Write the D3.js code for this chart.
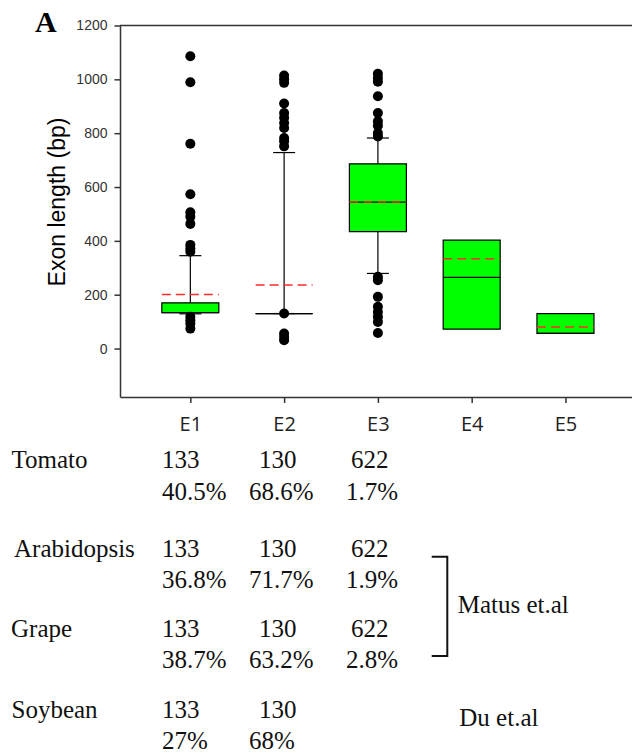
<!DOCTYPE html>
<html>
<head>
<meta charset="utf-8">
<script src="https://cdn.jsdelivr.net/npm/d3@7"></script>
<style>
  body { margin: 0; background: #fff; }
  svg { display: block; }
</style>
</head>
<body>
<svg id="chart" width="632" height="753"></svg>
<script>
// exon length distributions (bp)
const categories = ['E1', 'E2', 'E3', 'E4', 'E5'];
const q1 = [133, 130, 434, 72, 56];
const medians = [133, 130, 544, 264, 56];
const q3 = [170, 130, 686, 403, 130];
const whiskerLow = [129, 130, 279, null, null];
const whiskerHigh = [345, 728, 782, null, null];
const means = [201, 236, 544, 334, 80];
const outliers = [
  [1086, 989, 761, 573, 506, 490, 463, 385, 372, 360, 118, 105, 93, 74],
  [1014, 1000, 987, 910, 875, 857, 838, 819, 782, 770, 751, 130, 56, 43, 31],
  [1021, 1005, 991, 937, 875, 844, 828, 801, 788, 267, 254, 192, 155, 136, 118, 99, 58],
  [],
  []
];
const yTicks = [0, 200, 400, 600, 800, 1000, 1200];

// table under the plot
const species = ['Tomato', 'Arabidopsis', 'Grape', 'Soybean'];
const lengths = [['133', '130', '622'], ['133', '130', '622'], ['133', '130', '622'], ['133', '130']];
const percents = [['40.5%', '68.6%', '1.7%'], ['36.8%', '71.7%', '1.9%'], ['38.7%', '63.2%', '2.8%'], ['27%', '68%']];
const refs = ['Matus et.al', 'Du et.al'];

const svg = d3.select('#chart');
const plotLeft = 120, plotTop = 25.5, plotBottom = 397;

const x = d3.scaleLinear().domain([0.25, 5.75]).range([plotLeft, 635.8]);
const y = d3.scaleLinear().domain([-180, 1200]).range([plotBottom, plotTop]);
const boxW = 57, capW = 22;

// frame
svg.append('line')
  .attr('x1', plotLeft).attr('x2', 632).attr('y1', plotTop).attr('y2', plotTop)
  .attr('stroke', '#333').attr('stroke-width', 1.5);

const yAxis = svg.append('g')
  .attr('transform', `translate(${plotLeft},0)`)
  .call(d3.axisLeft(y).tickValues(yTicks).tickFormat(d3.format('d'))
    .tickSize(5.5).tickSizeOuter(0).tickPadding(7));
yAxis.selectAll('text').attr('font-family', "'Liberation Sans', Arial, sans-serif").attr('font-size', 14).attr('fill', '#333');

const xAxis = svg.append('g')
  .attr('transform', `translate(0,${plotBottom})`)
  .call(d3.axisBottom(x).tickValues([1, 2, 3, 4, 5]).tickFormat((d, i) => categories[i])
    .tickSize(6).tickSizeOuter(0).tickPadding(13.5));
xAxis.selectAll('text').attr('font-family', "'Open Sans', sans-serif").attr('font-size', 20).attr('fill', '#222');

svg.selectAll('.domain, .tick line').attr('stroke', '#333').attr('stroke-width', 1.5);

svg.append('text')
  .attr('transform', `translate(65,202) rotate(-90)`)
  .attr('text-anchor', 'middle')
  .attr('font-family', "'Liberation Sans', Arial, sans-serif")
  .attr('font-size', 23)
  .text('Exon length (bp)');

svg.append('text')
  .attr('x', 35).attr('y', 32)
  .attr('font-family', "'Liberation Serif', 'Times New Roman', serif")
  .attr('font-weight', 'bold').attr('font-size', 30)
  .text('A');

// boxes
const boxes = svg.append('g');
categories.forEach((c, i) => {
  const cx = x(i + 1);
  const g = boxes.append('g');
  if (whiskerHigh[i] != null) {
    g.append('line').attr('x1', cx).attr('x2', cx).attr('y1', y(q3[i])).attr('y2', y(whiskerHigh[i]))
      .attr('stroke', '#000').attr('stroke-width', 1.2);
    g.append('line').attr('x1', cx - capW / 2).attr('x2', cx + capW / 2)
      .attr('y1', y(whiskerHigh[i])).attr('y2', y(whiskerHigh[i]))
      .attr('stroke', '#000').attr('stroke-width', 1.2);
  }
  if (whiskerLow[i] != null) {
    g.append('line').attr('x1', cx).attr('x2', cx).attr('y1', y(q1[i])).attr('y2', y(whiskerLow[i]))
      .attr('stroke', '#000').attr('stroke-width', 1.2);
    g.append('line').attr('x1', cx - capW / 2).attr('x2', cx + capW / 2)
      .attr('y1', y(whiskerLow[i])).attr('y2', y(whiskerLow[i]))
      .attr('stroke', '#000').attr('stroke-width', 1.2);
  }
  const x0 = cx - boxW / 2, x1 = cx + boxW / 2;
  g.append('path')
    .attr('d', `M${x0},${y(q3[i])}H${x1}V${y(q1[i])}H${x0}Z`)
    .attr('fill', '#00ff00').attr('stroke', '#000').attr('stroke-width', 1.2);
  g.append('line').attr('x1', x0).attr('x2', x1).attr('y1', y(medians[i])).attr('y2', y(medians[i]))
    .attr('stroke', '#000').attr('stroke-width', 1.2);
  g.append('line').attr('x1', x0).attr('x2', x1).attr('y1', y(means[i])).attr('y2', y(means[i]))
    .attr('stroke', '#ff2b2b').attr('stroke-width', 1.5).attr('stroke-dasharray', '9,5');
  g.selectAll('circle').data(outliers[i]).enter().append('circle')
    .attr('cx', cx).attr('cy', d => y(d)).attr('r', 5).attr('fill', '#000');
});

// table
const rowY = [468, 556.7, 636.7, 717.7];
const nameX = [11.5, 14, 11, 11.5];
const numX = [162, 259, 351];
const pctX = [162, 249, 346];
const table = svg.append('g')
  .attr('font-family', "'Liberation Serif', 'Times New Roman', serif")
  .attr('font-size', 25).attr('fill', '#111');
species.forEach((s, r) => {
  table.append('text').attr('x', nameX[r]).attr('y', rowY[r]).text(s);
  lengths[r].forEach((v, c) => table.append('text').attr('x', numX[c]).attr('y', rowY[r]).text(v));
  percents[r].forEach((v, c) => table.append('text').attr('x', pctX[c]).attr('y', rowY[r] + 31.5).text(v));
});

svg.append('path')
  .attr('d', 'M431.7,556.7H447.3V656H431.7')
  .attr('fill', 'none').attr('stroke', '#111').attr('stroke-width', 2);
table.append('text').attr('x', 457.7).attr('y', 613.3).text(refs[0]);
table.append('text').attr('x', 459.3).attr('y', 726).text(refs[1]);
</script>
</body>
</html>
